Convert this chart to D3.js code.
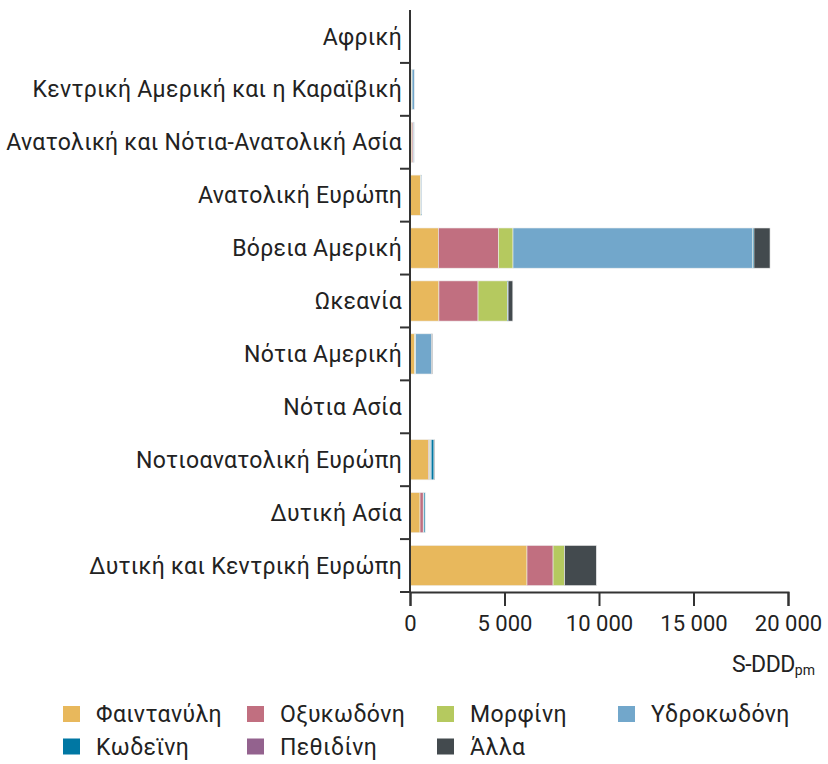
<!DOCTYPE html>
<html>
<head>
<meta charset="utf-8">
<script src="https://cdn.jsdelivr.net/npm/d3@7"></script>
<style>
  body { margin: 0; background: #fff; }
  text { font-family: Roboto, "Noto Sans", sans-serif; fill: #222; }
</style>
</head>
<body>
<div id="chart"></div>
<script>
// Stacked horizontal bars, S-DDDpm per region

const width = 828, height = 764,
    margin = ({ top: 10, right: 40, bottom: 172, left: 410 });

const regions = [
    "Αφρική",
    "Κεντρική Αμερική και η Καραϊβική",
    "Ανατολική και Νότια-Ανατολική Ασία",
    "Ανατολική Ευρώπη",
    "Βόρεια Αμερική",
    "Ωκεανία",
    "Νότια Αμερική",
    "Νότια Ασία",
    "Νοτιοανατολική Ευρώπη",
    "Δυτική Ασία",
    "Δυτική και Κεντρική Ευρώπη"
];

const drugs = ["Φαιντανύλη", "Οξυκωδόνη", "Μορφίνη", "Υδροκωδόνη", "Κωδεϊνη", "Πεθιδίνη", "Άλλα"];
const colors = ["#e8b85c", "#c16f80", "#b5c95f", "#72a7cb", "#0077a3", "#93628e", "#434a4e"];

// one array per drug, in region order
const fentanyl    = [10, 60, 100, 560, 1500, 1530, 250, 0, 970, 530, 6190];
const oxycodone   = [0, 20, 60, 0, 3180, 2070, 0, 0, 50, 170, 1380];
const morphine    = [0, 30, 20, 20, 770, 1550, 50, 0, 50, 0, 610];
const hydrocodone = [30, 120, 40, 40, 12680, 0, 850, 0, 50, 40, 0];
const codeine     = [0, 0, 0, 0, 70, 40, 0, 0, 150, 60, 0];
const pethidine   = [0, 0, 0, 0, 0, 0, 0, 0, 0, 0, 0];
const other       = [0, 0, 0, 0, 850, 250, 40, 0, 30, 0, 1680];

const xTicks = [0, 5000, 10000, 15000, 20000];

const series = [fentanyl, oxycodone, morphine, hydrocodone, codeine, pethidine, other];
const table = regions.map((r, i) => {
    const row = { region: r };
    drugs.forEach((d, j) => row[d] = series[j][i]);
    return row;
});

const svg = d3.select("#chart")
    .append("svg")
    .attr("width", width)
    .attr("height", height);

const x = d3.scaleLinear()
    .domain([0, 20000])
    .range([margin.left, 788]);

const y = d3.scaleBand()
    .domain(regions)
    .range([margin.top, height - margin.bottom])
    .paddingInner(0.24)
    .paddingOuter(0.12);

const color = d3.scaleOrdinal().domain(drugs).range(colors);

const stack = d3.stack().keys(drugs)(table);

svg.append("g")
    .selectAll("g")
    .data(stack)
    .join("g")
    .attr("fill", d => color(d.key))
    .selectAll("rect")
    .data(d => d)
    .join("rect")
    .attr("x", d => x(d[0]))
    .attr("y", d => y(d.data.region))
    .attr("width", d => x(d[1]) - x(d[0]))
    .attr("height", y.bandwidth())
    .attr("stroke", d => (d[1] - d[0]) > 0 ? "#eeeeee" : "none")
    .attr("stroke-width", 0.6);

// region labels
svg.append("g")
    .selectAll("text")
    .data(regions)
    .join("text")
    .attr("x", margin.left - 8)
    .attr("y", d => y(d) + y.bandwidth() / 2)
    .attr("dy", "0.35em")
    .attr("text-anchor", "end")
    .attr("font-size", 23)
    .attr("letter-spacing", 0.3)
    .text(d => d);

// y axis line + boundary ticks
const yBottom = height - margin.bottom;
svg.append("line")
    .attr("x1", margin.left).attr("x2", margin.left)
    .attr("y1", margin.top).attr("y2", yBottom)
    .attr("stroke", "#333").attr("stroke-width", 2);

svg.append("g")
    .selectAll("line")
    .data(regions)
    .join("line")
    .attr("x1", margin.left - 10).attr("x2", margin.left)
    .attr("y1", d => y(d) + y.bandwidth() + y.step() * y.paddingInner() / 2)
    .attr("y2", d => y(d) + y.bandwidth() + y.step() * y.paddingInner() / 2)
    .attr("stroke", "#333").attr("stroke-width", 2);

// x axis
const xAxis = svg.append("g")
    .attr("transform", `translate(0,${yBottom})`)
    .call(d3.axisBottom(x)
        .tickValues(xTicks)
        .tickSize(14)
        .tickPadding(9)
        .tickFormat(d => d3.format(",")(d).replace(/,/g, " ")));

xAxis.select(".domain").attr("stroke", "#333").attr("stroke-width", 2);
xAxis.selectAll(".tick line").attr("stroke", "#333").attr("stroke-width", 2);
xAxis.selectAll(".tick text")
    .attr("font-size", 22)
    .attr("font-family", "Roboto, sans-serif")
    .attr("fill", "#222");

const unit = svg.append("text")
    .attr("x", 815)
    .attr("y", 672)
    .attr("text-anchor", "end")
    .attr("font-size", 23);
unit.append("tspan").attr("letter-spacing", -0.5).text("S-DDD");
unit.append("tspan").attr("font-size", 14).attr("dy", 3).text("pm");

// legend
const legendCols = [63, 247, 437, 618];
const legend = svg.append("g")
    .selectAll("g")
    .data(drugs)
    .join("g")
    .attr("transform", (d, i) => `translate(${legendCols[i % 4]},${714 + Math.floor(i / 4) * 32.5})`);

legend.append("rect")
    .attr("x", 0).attr("y", -8)
    .attr("width", 17).attr("height", 16)
    .attr("fill", d => color(d));

legend.append("text")
    .attr("x", 33)
    .attr("dy", "0.35em")
    .attr("font-size", 23)
    .attr("letter-spacing", 0.4)
    .text(d => d);
</script>
</body>
</html>
